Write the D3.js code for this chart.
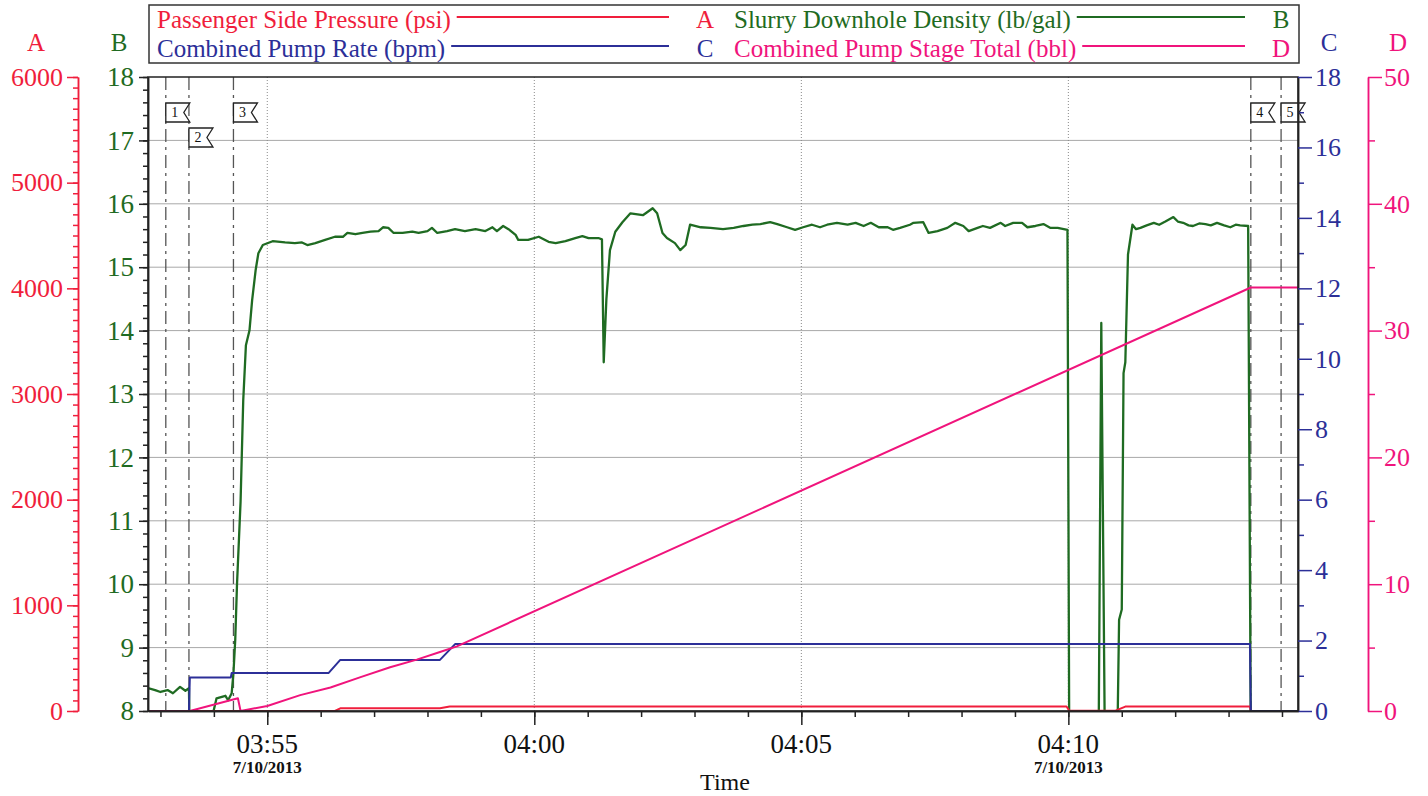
<!DOCTYPE html>
<html><head><meta charset="utf-8">
<script src="https://cdn.jsdelivr.net/npm/d3@7"></script>
<style>
body{margin:0;background:#fff;}
svg{display:block;font-family:"Liberation Serif","Times New Roman",serif;}
</style></head><body>
<svg id="chart" width="1428" height="796"></svg>
<script>
// ---------------- DATA ----------------
const timeDomain = ["03:52:46", "04:14:18"];
const majorTickTimes = ["03:55:00", "04:00:00", "04:05:00", "04:10:00"];
const majorTickLabels = ["03:55", "04:00", "04:05", "04:10"];
const majorTickDates = ["7/10/2013", "", "", "7/10/2013"];

const eventTimes = ["03:53:06", "03:53:32", "03:54:22", "04:13:25", "04:13:59"];
const eventLabels = ["1", "2", "3", "4", "5"];
const eventRows = [0, 1, 0, 0, 0];

// A: Passenger Side Pressure (psi)
const pressureSeries = [
  ["03:52:46", 0], ["03:56:16", 0], ["03:56:22", 25], ["03:58:14", 25], ["03:58:25", 42],
  ["04:09:58", 42], ["04:10:01", 3], ["04:10:53", 3], ["04:11:04", 42], ["04:13:24", 42],
  ["04:13:25", 0], ["04:14:18", 0]
];
// B: Slurry Downhole Density (lb/gal)
const densitySeries = [
  ["03:52:46", 8.36], ["03:52:54", 8.33], ["03:53:00", 8.30], ["03:53:08", 8.33], ["03:53:14", 8.28],
  ["03:53:22", 8.38], ["03:53:28", 8.32], ["03:53:32", 8.36], ["03:53:33", 7.5], ["03:53:57", 7.6],
  ["03:53:58", 7.9], ["03:54:03", 8.20], ["03:54:13", 8.24], ["03:54:16", 8.17], ["03:54:20", 8.28],
  ["03:54:22", 8.6], ["03:54:24", 9.12], ["03:54:26", 10.0], ["03:54:30", 11.3], ["03:54:33", 12.9],
  ["03:54:36", 13.77], ["03:54:40", 14.0], ["03:54:43", 14.48], ["03:54:47", 14.96], ["03:54:50", 15.22],
  ["03:54:55", 15.35], ["03:55:06", 15.41], ["03:55:20", 15.39], ["03:55:31", 15.38], ["03:55:39", 15.39],
  ["03:55:45", 15.35], ["03:55:54", 15.38], ["03:56:05", 15.43], ["03:56:16", 15.48], ["03:56:25", 15.48],
  ["03:56:30", 15.54], ["03:56:39", 15.52], ["03:56:47", 15.54], ["03:56:56", 15.56], ["03:57:05", 15.57],
  ["03:57:10", 15.63], ["03:57:16", 15.62], ["03:57:22", 15.54], ["03:57:32", 15.54], ["03:57:43", 15.56],
  ["03:57:50", 15.54], ["03:58:00", 15.57], ["03:58:05", 15.62], ["03:58:11", 15.54], ["03:58:22", 15.57],
  ["03:58:31", 15.60], ["03:58:42", 15.57], ["03:58:54", 15.60], ["03:59:05", 15.57], ["03:59:13", 15.63],
  ["03:59:18", 15.57], ["03:59:25", 15.65], ["03:59:31", 15.60], ["03:59:39", 15.51], ["03:59:42", 15.43],
  ["03:59:53", 15.43], ["04:00:05", 15.48], ["04:00:16", 15.40], ["04:00:24", 15.38], ["04:00:35", 15.41],
  ["04:00:46", 15.46], ["04:00:54", 15.49], ["04:01:01", 15.46], ["04:01:12", 15.46], ["04:01:16", 15.44],
  ["04:01:18", 13.50], ["04:01:21", 14.5], ["04:01:25", 15.27], ["04:01:31", 15.56], ["04:01:39", 15.71],
  ["04:01:48", 15.85], ["04:02:02", 15.82], ["04:02:13", 15.93], ["04:02:18", 15.85], ["04:02:24", 15.54],
  ["04:02:29", 15.46], ["04:02:38", 15.38], ["04:02:44", 15.27], ["04:02:50", 15.35], ["04:02:55", 15.67],
  ["04:03:07", 15.63], ["04:03:18", 15.62], ["04:03:32", 15.60], ["04:03:44", 15.62], ["04:03:55", 15.65],
  ["04:04:05", 15.67], ["04:04:14", 15.68], ["04:04:25", 15.71], ["04:04:33", 15.68], ["04:04:44", 15.63],
  ["04:04:53", 15.59], ["04:05:02", 15.63], ["04:05:12", 15.67], ["04:05:21", 15.63], ["04:05:29", 15.67],
  ["04:05:40", 15.70], ["04:05:52", 15.67], ["04:06:01", 15.70], ["04:06:10", 15.65], ["04:06:18", 15.70],
  ["04:06:27", 15.63], ["04:06:37", 15.63], ["04:06:43", 15.59], ["04:06:51", 15.62], ["04:07:02", 15.67],
  ["04:07:06", 15.70], ["04:07:17", 15.71], ["04:07:23", 15.54], ["04:07:33", 15.57], ["04:07:44", 15.62],
  ["04:07:53", 15.70], ["04:08:02", 15.65], ["04:08:08", 15.57], ["04:08:18", 15.62], ["04:08:24", 15.65],
  ["04:08:32", 15.62], ["04:08:44", 15.70], ["04:08:49", 15.65], ["04:08:58", 15.70], ["04:09:08", 15.70],
  ["04:09:14", 15.63], ["04:09:23", 15.65], ["04:09:32", 15.68], ["04:09:40", 15.62], ["04:09:48", 15.62],
  ["04:09:59", 15.59], ["04:10:01", 7.5],
  ["04:10:34", 7.5], ["04:10:37", 14.12], ["04:10:41", 7.5], ["04:10:55", 7.5], ["04:10:57", 9.44],
  ["04:11:00", 9.6], ["04:11:02", 13.33], ["04:11:04", 13.5], ["04:11:07", 15.2], ["04:11:12", 15.67],
  ["04:11:16", 15.60], ["04:11:21", 15.62], ["04:11:28", 15.66], ["04:11:36", 15.70], ["04:11:42", 15.67],
  ["04:11:49", 15.72], ["04:11:58", 15.79], ["04:12:03", 15.72], ["04:12:09", 15.70], ["04:12:15", 15.66],
  ["04:12:20", 15.65], ["04:12:27", 15.69], ["04:12:34", 15.68], ["04:12:40", 15.66], ["04:12:47", 15.70],
  ["04:12:55", 15.66], ["04:13:02", 15.63], ["04:13:08", 15.67], ["04:13:13", 15.66], ["04:13:22", 15.65],
  ["04:13:25", 7.5], ["04:14:18", 7.5]
];
// C: Combined Pump Rate (bpm)
const rateSeries = [
  ["03:52:46", 0], ["03:53:32", 0], ["03:53:33", 0.95], ["03:54:19", 0.95], ["03:54:20", 1.08],
  ["03:56:09", 1.08], ["03:56:22", 1.45], ["03:58:14", 1.45], ["03:58:31", 1.9], ["04:13:24", 1.9],
  ["04:13:25", 0], ["04:14:18", 0]
];
// D: Combined Pump Stage Total (bbl)
const stageTotalSeries = [
  ["03:52:46", 0], ["03:53:33", 0], ["03:54:27", 1.0], ["03:54:30", 0], ["03:55:00", 0.4],
  ["03:55:37", 1.25], ["03:56:11", 1.85], ["03:56:44", 2.65], ["03:57:18", 3.45], ["03:57:48", 4.05],
  ["03:58:14", 4.65], ["03:58:33", 5.1], ["04:13:25", 33.4], ["04:14:18", 33.4]
];

const legendNames = ["Passenger Side Pressure (psi)", "Slurry Downhole Density (lb/gal)",
                     "Combined Pump Rate (bpm)", "Combined Pump Stage Total (bbl)"];
const legendAxes = ["A", "B", "C", "D"];

// ---------------- STYLE ----------------
const COL = { A: "#f01e3c", B: "#1f6b22", C: "#2c2f98", D: "#f0147c" };
const L = 148, R = 1298, TOP = 77, BOT = 711;

const parseT = d3.timeParse("%Y-%m-%d %H:%M:%S");
const T = s => parseT("2013-07-10 " + s);

const svg = d3.select("#chart");

const x = d3.scaleTime().domain(timeDomain.map(T)).range([L, R]);
const yA = d3.scaleLinear().domain([0, 6000]).range([BOT, TOP]);
const yB = d3.scaleLinear().domain([8, 18]).range([BOT, TOP]);
const yC = d3.scaleLinear().domain([0, 18]).range([BOT, TOP]);
const yD = d3.scaleLinear().domain([0, 50]).range([BOT, TOP]);

svg.append("rect").attr("width", 1428).attr("height", 796).attr("fill", "#fff");

// grid
svg.append("g").selectAll("line").data(d3.range(9, 18)).join("line")
  .attr("x1", L).attr("x2", R).attr("y1", d => yB(d)).attr("y2", d => yB(d))
  .attr("stroke", "#a8a8a8").attr("stroke-width", 1);
svg.append("g").selectAll("line").data(majorTickTimes).join("line")
  .attr("x1", d => x(T(d))).attr("x2", d => x(T(d))).attr("y1", TOP).attr("y2", BOT)
  .attr("stroke", "#8a8a8a").attr("stroke-width", 1).attr("stroke-dasharray", "1,2");

// event lines
svg.append("g").selectAll("line").data(eventTimes).join("line")
  .attr("x1", d => x(T(d))).attr("x2", d => x(T(d))).attr("y1", TOP).attr("y2", BOT)
  .attr("stroke", "#555").attr("stroke-width", 1.3).attr("stroke-dasharray", "13,5,3,5");

// clip
svg.append("clipPath").attr("id", "clip").append("rect")
  .attr("x", L).attr("y", TOP).attr("width", R - L).attr("height", BOT - TOP);
const plot = svg.append("g").attr("clip-path", "url(#clip)");

function drawLine(data, yScale, color, w) {
  plot.append("path").datum(data)
    .attr("d", d3.line().x(d => x(T(d[0]))).y(d => yScale(d[1])))
    .attr("fill", "none").attr("stroke", color).attr("stroke-width", w)
    .attr("stroke-linejoin", "round");
}
drawLine(densitySeries, yB, COL.B, 2.3);
drawLine(pressureSeries, yA, COL.A, 2);
drawLine(rateSeries, yC, COL.C, 2);
drawLine(stageTotalSeries, yD, COL.D, 2);

// flags
const flagW = 24, flagH = 19, notch = 6;
const flags = svg.append("g");
eventTimes.forEach((t, i) => {
  const fx = x(T(t)), fy = 103 + eventRows[i] * 25;
  flags.append("path")
    .attr("d", `M${fx},${fy}H${fx + flagW}L${fx + flagW - notch},${fy + flagH / 2}L${fx + flagW},${fy + flagH}H${fx}Z`)
    .attr("fill", "#fff").attr("stroke", "#222").attr("stroke-width", 1.3);
  flags.append("text").attr("x", fx + 9).attr("y", fy + 14).attr("text-anchor", "middle")
    .attr("font-size", 14).attr("fill", "#111").text(eventLabels[i]);
});

// frame
svg.append("rect").attr("x", L).attr("y", TOP).attr("width", R - L).attr("height", BOT - TOP)
  .attr("fill", "none").attr("stroke", "#222").attr("stroke-width", 1.5);

function styleAxis(g, color, fs) {
  g.selectAll("line").attr("stroke", color).attr("stroke-width", 1.5);
  g.selectAll("path.domain").attr("stroke", color).attr("stroke-width", 1.5);
  g.selectAll("text").attr("fill", color).attr("font-size", fs)
    .attr("font-family", "'Liberation Serif','Times New Roman',serif");
}
const fmtInt = d3.format("d");

// Axis A
const gAmin = svg.append("g").attr("transform", `translate(78,0)`)
  .call(d3.axisLeft(yA).tickValues(d3.range(0, 6001, 100)).tickSize(5).tickFormat("").tickSizeOuter(0));
styleAxis(gAmin, COL.A, 26);
const gA = svg.append("g").attr("transform", `translate(78,0)`)
  .call(d3.axisLeft(yA).tickValues(d3.range(0, 6001, 1000)).tickSize(11).tickPadding(4)
    .tickFormat(fmtInt).tickSizeOuter(0));
styleAxis(gA, COL.A, 26);

// Axis B
const gBmin = svg.append("g").attr("transform", `translate(${L},0)`)
  .call(d3.axisLeft(yB).tickValues(d3.range(8, 18.01, 0.2)).tickSize(5).tickFormat("").tickSizeOuter(0));
styleAxis(gBmin, "#222", 27);
const gB = svg.append("g").attr("transform", `translate(${L},0)`)
  .call(d3.axisLeft(yB).tickValues(d3.range(8, 19, 1)).tickSize(9).tickPadding(5)
    .tickFormat(fmtInt).tickSizeOuter(0));
styleAxis(gB, "#222", 27);
gB.selectAll("text").attr("fill", COL.B);

// Axis C
const gCmin = svg.append("g").attr("transform", `translate(${R},0)`)
  .call(d3.axisRight(yC).tickValues(d3.range(1, 18, 2)).tickSize(6).tickFormat("").tickSizeOuter(0));
styleAxis(gCmin, COL.C, 26);
const gC = svg.append("g").attr("transform", `translate(${R},0)`)
  .call(d3.axisRight(yC).tickValues(d3.range(0, 19, 2)).tickSize(14).tickPadding(3)
    .tickFormat(fmtInt).tickSizeOuter(0));
styleAxis(gC, COL.C, 26);
gC.selectAll("path.domain").attr("stroke", "#222");
gCmin.selectAll("path.domain").attr("stroke", "#222");

// Axis D
const gDmin = svg.append("g").attr("transform", `translate(1368,0)`)
  .call(d3.axisRight(yD).tickValues(d3.range(5, 50, 10)).tickSize(7).tickFormat("").tickSizeOuter(0));
styleAxis(gDmin, COL.D, 26);
const gD = svg.append("g").attr("transform", `translate(1368,0)`)
  .call(d3.axisRight(yD).tickValues(d3.range(0, 51, 10)).tickSize(14).tickPadding(2)
    .tickFormat(fmtInt).tickSizeOuter(0));
styleAxis(gD, COL.D, 26);

// X axis
const gXmin = svg.append("g").attr("transform", `translate(0,${BOT})`)
  .call(d3.axisBottom(x).ticks(d3.timeMinute.every(1)).tickSize(6).tickFormat("").tickSizeOuter(0));
styleAxis(gXmin, "#222", 26);
const gX = svg.append("g").attr("transform", `translate(0,${BOT})`)
  .call(d3.axisBottom(x).tickValues(majorTickTimes.map(T)).tickSize(14).tickFormat("").tickSizeOuter(0));
styleAxis(gX, "#222", 26);

majorTickTimes.forEach((t, i) => {
  svg.append("text").attr("x", x(T(t))).attr("y", 753).attr("text-anchor", "middle")
    .attr("font-size", 27).attr("fill", "#111").text(majorTickLabels[i]);
  if (majorTickDates[i]) {
    svg.append("text").attr("x", x(T(t))).attr("y", 773).attr("text-anchor", "middle")
      .attr("font-size", 17).attr("font-weight", "bold").attr("fill", "#111").text(majorTickDates[i]);
  }
});
svg.append("text").attr("x", 725).attr("y", 790).attr("text-anchor", "middle")
  .attr("font-size", 24).attr("fill", "#111").text("Time");

// axis letters
[["A", 36, COL.A], ["B", 119, COL.B], ["C", 1329, COL.C], ["D", 1398, COL.D]].forEach(([t, px, c]) => {
  svg.append("text").attr("x", px).attr("y", 51).attr("text-anchor", "middle")
    .attr("font-size", 25).attr("fill", c).text(t);
});

// legend
svg.append("rect").attr("x", 149).attr("y", 5).attr("width", 1150).attr("height", 58)
  .attr("fill", "#fff").attr("stroke", "#333").attr("stroke-width", 1.5);
const legendPos = [
  { tx: 157, ly: 17, by: 28, lend: 669, lx: 705 },
  { tx: 734, ly: 17, by: 28, lend: 1245, lx: 1281 },
  { tx: 157, ly: 46, by: 57, lend: 669, lx: 705 },
  { tx: 734, ly: 46, by: 57, lend: 1245, lx: 1281 }
];
const legendColors = [COL.A, COL.B, COL.C, COL.D];
legendNames.forEach((name, i) => {
  const p = legendPos[i];
  const tEl = svg.append("text").attr("x", p.tx).attr("y", p.by).attr("font-size", 25)
    .attr("fill", legendColors[i]).text(name);
  const w = tEl.node().getComputedTextLength();
  svg.append("line").attr("x1", p.tx + w + 6).attr("x2", p.lend).attr("y1", p.ly).attr("y2", p.ly)
    .attr("stroke", legendColors[i]).attr("stroke-width", 2);
  svg.append("text").attr("x", p.lx).attr("y", p.by).attr("text-anchor", "middle").attr("font-size", 25)
    .attr("fill", legendColors[i]).text(legendAxes[i]);
});
</script>
</body></html>
